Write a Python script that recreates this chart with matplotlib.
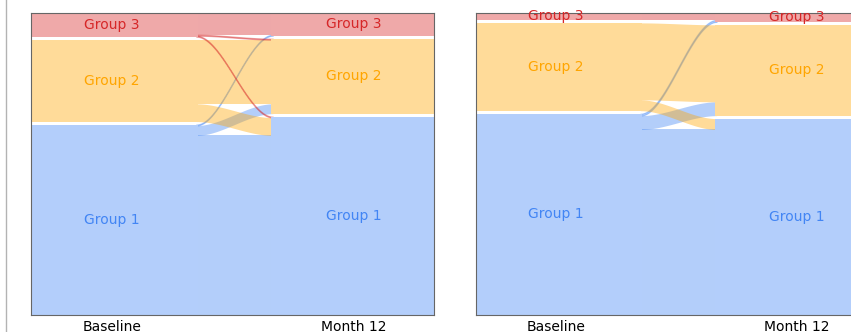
import numpy as np
import matplotlib
matplotlib.use('Agg')
import matplotlib.pyplot as plt
from matplotlib.lines import Line2D
from matplotlib.colors import to_rgb

# Categorias y colores
groups = ['Group 1', 'Group 2', 'Group 3']
time_points = ['Baseline', 'Month 12']
colors = ['#4285F4', '#FFA500', '#D62728']

# Flujos: fila = grupo en Baseline, columna = grupo en Month 12
flows_a = [[182, 10, 1],
           [18, 65, 0],
           [1, 1, 22]]
flows_b = [[188, 14, 2],
           [11, 78, 0],
           [0, 0, 7]]

gap = 3        # separacion entre grupos (en pacientes)
alpha = 0.4
x_left, x_right = 0.41, 0.6
FontSize = 10


def light(c):
    # color con alpha mezclado sobre blanco (opaco)
    return tuple(alpha * np.array(to_rgb(c)) + (1 - alpha))


def alluvial(ax, flows):
    f = np.array(flows)
    n = len(groups)
    left_tot = f.sum(axis=1)
    right_tot = f.sum(axis=0)
    # base de cada grupo (apilado de abajo hacia arriba)
    left_base = np.concatenate([[0], np.cumsum(left_tot + gap)[:-1]])
    right_base = np.concatenate([[0], np.cumsum(right_tot + gap)[:-1]])
    total = left_tot.sum() + gap * (n - 1)

    # cintas entre Baseline y Month 12
    x = np.linspace(x_left, x_right, 200)
    t = (x - x_left) / (x_right - x_left)
    s = t * t * (3 - 2 * t)

    l_cur = left_base.astype(float).copy()
    r_cur = right_base.astype(float).copy()
    for i in range(n):
        for j in range(n):
            v = f[i, j]
            if v <= 0:
                continue
            y_lo = l_cur[i] + (r_cur[j] - l_cur[i]) * s
            y_hi = y_lo + v
            lw = 0.8 if v <= 2 else 0
            ax.fill_between(x, y_lo, y_hi, color=colors[i], alpha=alpha,
                            linewidth=lw)
            l_cur[i] += v
            r_cur[j] += v

    # bloques de cada lado (opacos, tapan la union con las cintas)
    eps = 0.004
    for k in range(n):
        ax.fill_between([0, x_left + eps], left_base[k], left_base[k] + left_tot[k],
                        color=light(colors[k]), linewidth=0)
        ax.fill_between([x_right - eps, 1], right_base[k], right_base[k] + right_tot[k],
                        color=light(colors[k]), linewidth=0)

    for k in range(n):
        ax.text(0.2, left_base[k] + left_tot[k] / 2, groups[k], color=colors[k],
                ha='center', va='center', fontsize=FontSize)
        ax.text(0.8, right_base[k] + right_tot[k] / 2, groups[k], color=colors[k],
                ha='center', va='center', fontsize=FontSize)

    ax.set_xlim(0, 1)
    ax.set_ylim(0, total)
    ax.set_yticks([])
    ax.set_xticks([0.2, 0.8])
    ax.set_xticklabels(time_points, fontsize=FontSize)
    ax.tick_params(axis='x', length=0)
    for sp in ax.spines.values():
        sp.set_color('0.4')
        sp.set_linewidth(0.8)


W, H = 851, 332
fig = plt.figure(figsize=(W / 100, H / 100), dpi=100)
ax1 = fig.add_axes([31 / W, 17 / H, 403 / W, 302 / H])
ax2 = fig.add_axes([476 / W, 17 / H, 401 / W, 302 / H])

alluvial(ax1, flows_a)
alluvial(ax2, flows_b)

# borde gris de la captura
fig.add_artist(Line2D([5.5 / W, 5.5 / W], [0, 1], color='0.7', linewidth=1))

fig.savefig('out.png', dpi=100)
